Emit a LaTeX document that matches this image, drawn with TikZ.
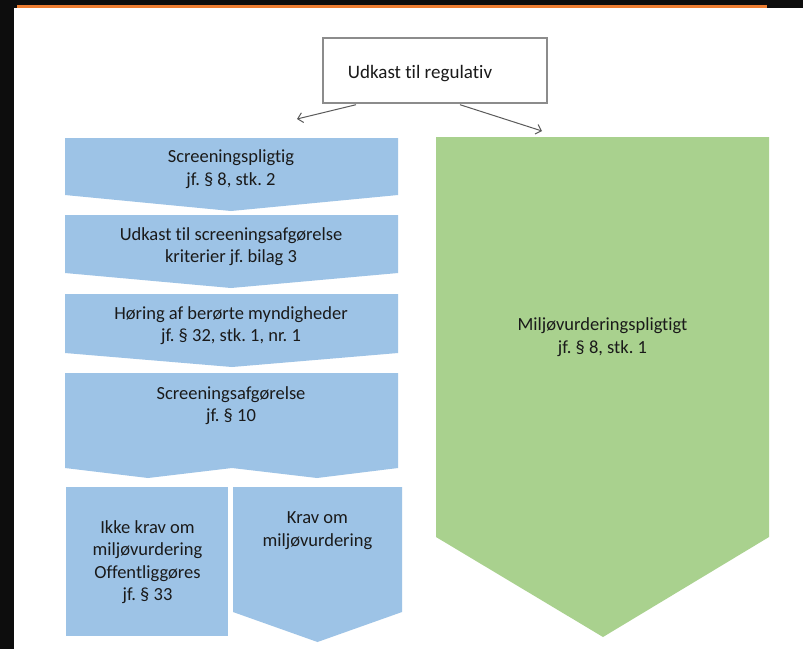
\documentclass[tikz,border=0pt]{standalone}
\usepackage{fontspec}
\setmainfont{Carlito}[Ligatures={NoCommon}]
\frenchspacing
\usetikzlibrary{arrows.meta}
\definecolor{frameblack}{HTML}{0D0D0D}
\definecolor{topline}{HTML}{ED7D31}
\definecolor{boxblue}{HTML}{9DC3E6}
\definecolor{boxgreen}{HTML}{A9D18E}
\definecolor{boxgray}{HTML}{8C8C8C}
\definecolor{arrowgray}{HTML}{5A5A5A}
\definecolor{txt}{HTML}{1A1A1A}
\tikzset{
  bluefill/.style={fill=boxblue},
  greenfill/.style={fill=boxgreen},
  lbl/.style={align=center, text=txt, inner sep=0pt,
    font=\fontsize{18.5}{22.5}\selectfont},
  topbox/.style={draw=boxgray, line width=1.4pt, fill=white,
    minimum width=224pt, minimum height=65pt, inner sep=0pt},
  conn/.style={draw=arrowgray, line width=1pt,
    -{Straight Barb[length=5pt,width=10pt]}}
}
\begin{document}
\begin{tikzpicture}[x=1pt,y=-1pt]
\useasboundingbox (0,0) rectangle (803,649);
\fill[white] (0,0) rectangle (803,649);
% frame
\fill[frameblack] (0,0) rectangle (803,8);
\fill[frameblack] (0,0) rectangle (14,649);
\fill[topline] (17,5) rectangle (767,8);

% top box
\node[topbox] (top) at (435,70.5) {};
\node[lbl, font=\fontsize{19}{23}\selectfont] (toptext) at (420,74) {Udkast til regulativ};

% left column
\fill[bluefill] (65,138) -- (398,138) -- (398,195) -- (231,211) -- (65,195) -- cycle;
\node[lbl] (s1) at (231,169) {Screeningspligtig\\jf. § 8, stk. 2};

\fill[bluefill] (65,215) -- (398,215) -- (398,273) -- (231,288) -- (65,273) -- cycle;
\node[lbl] (s2) at (231,246.5) {Udkast til screeningsafgørelse\\kriterier jf. bilag 3};

\fill[bluefill] (65,294) -- (398,294) -- (398,353) -- (232,367) -- (65,353) -- cycle;
\node[lbl] (s3) at (231,325.5) {Høring af berørte myndigheder\\jf. § 32, stk. 1, nr. 1};

\fill[bluefill] (65,373) -- (398,373) -- (398,468) -- (317,478) -- (232,468) -- (148,478) -- (65,468) -- cycle;
\node[lbl] (s4) at (231,405.5) {Screeningsafgørelse\\jf. § 10};

\fill[bluefill] (66,487) rectangle (228,636);
\node[lbl] (s5) at (147.5,562) {Ikke krav om\\miljøvurdering\\Offentliggøres\\jf. § 33};

\fill[bluefill] (233,487) -- (402,487) -- (402,612) -- (317.5,642) -- (233,612) -- cycle;
\node[lbl] (s6) at (317.5,530.5) {Krav om\\miljøvurdering};

% right column
\fill[greenfill] (436,137) -- (769,137) -- (769,537) -- (603,637) -- (436,537) -- cycle;
\node[lbl] (g1) at (602.5,337) {Miljøvurderingspligtigt\\jf. § 8, stk. 1};

% connectors
\coordinate (lend) at (297,119);
\coordinate (rend) at (542,131);
\draw[conn] ([xshift=-79pt,yshift=-1pt]top.south) -- (lend);
\draw[conn] ([xshift=25pt,yshift=-1pt]top.south) -- (rend);
\end{tikzpicture}
\end{document}
